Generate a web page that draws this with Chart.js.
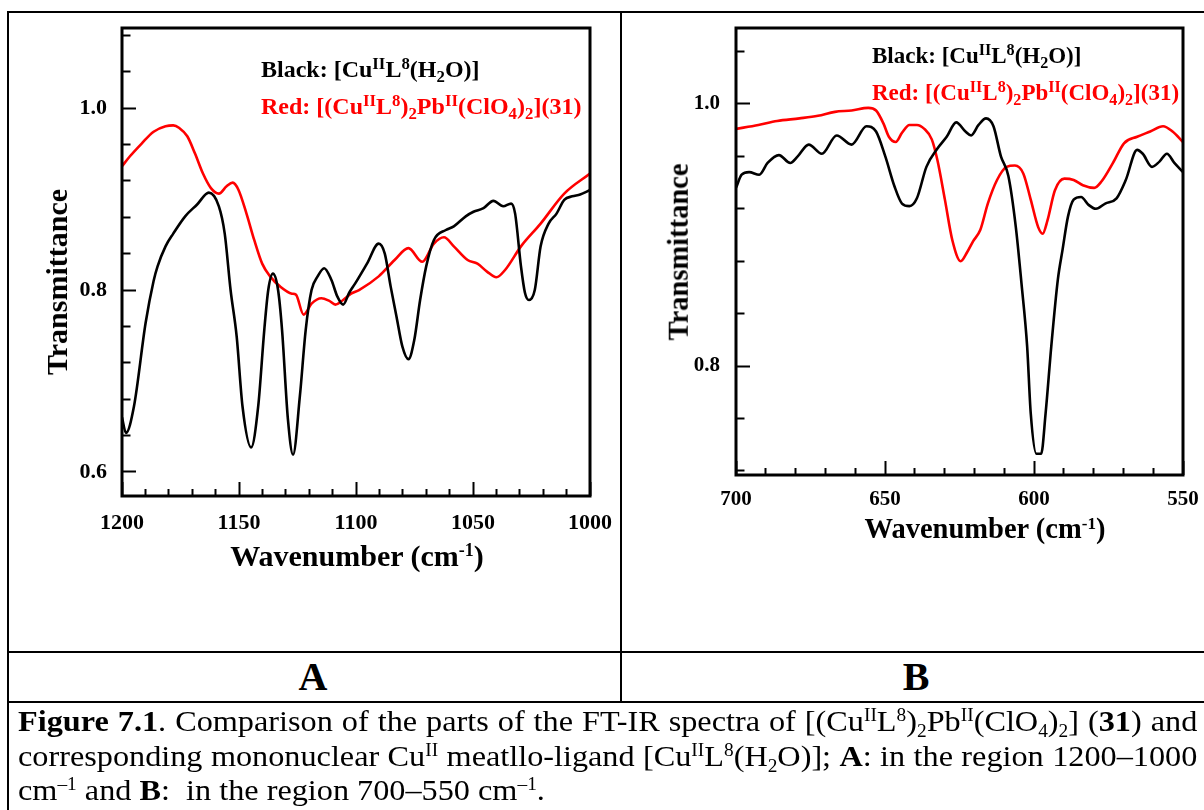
<!DOCTYPE html>
<html><head><meta charset="utf-8">
<script src="https://cdn.jsdelivr.net/npm/chart.js@4.4.0/dist/chart.umd.min.js"></script>
<style>
html,body{margin:0;padding:0;background:#fff;}
body{width:1204px;height:810px;position:relative;overflow:hidden;font-family:'Liberation Serif','Times New Roman',serif;color:#000;}
.ln{position:absolute;background:#000;}
canvas{position:absolute;top:0;}
.t{position:absolute;white-space:nowrap;font-weight:bold;line-height:1;}
.cap{position:absolute;left:18px;width:1097px;font-size:30px;line-height:1;font-weight:normal;transform:scaleX(1.075);transform-origin:0 0;}
.j{text-align:justify;text-align-last:justify;}
sup,sub{font-size:0.6em;line-height:0;}
sup{vertical-align:0.55em;}
sub{vertical-align:-0.35em;}
.lg sup,.lg sub{font-size:0.7em;}
.lg sup{vertical-align:0.5em;}
.lg sub{vertical-align:-0.3em;}
.red{color:#ff0000;}
</style></head><body>
<canvas id="cA" width="620" height="600" style="left:0"></canvas>
<canvas id="cB" width="584" height="600" style="left:620px"></canvas>

<div class="ln" style="left:8px;top:11px;width:1196px;height:2px"></div>
<div class="ln" style="left:7px;top:11px;width:2px;height:799px"></div>
<div class="ln" style="left:620px;top:11px;width:2px;height:692px"></div>
<div class="ln" style="left:8px;top:651px;width:1196px;height:2px"></div>
<div class="ln" style="left:8px;top:701px;width:1196px;height:2px"></div>

<div class="t lg" style="left:261px;top:57px;font-size:24px">Black: [Cu<sup>II</sup>L<sup>8</sup>(H<sub>2</sub>O)]</div>
<div class="t lg red" style="left:261px;top:94px;font-size:24px">Red: [(Cu<sup>II</sup>L<sup>8</sup>)<sub>2</sub>Pb<sup>II</sup>(ClO<sub>4</sub>)<sub>2</sub>](31)</div>
<div class="t lg" style="left:872px;top:44px;font-size:23px">Black: [Cu<sup>II</sup>L<sup>8</sup>(H<sub>2</sub>O)]</div>
<div class="t lg red" style="left:872px;top:81px;font-size:23px">Red: [(Cu<sup>II</sup>L<sup>8</sup>)<sub>2</sub>Pb<sup>II</sup>(ClO<sub>4</sub>)<sub>2</sub>](31)</div>

<div class="t" style="left:357px;top:541px;font-size:30px;transform:translateX(-50%)">Wavenumber (cm<sup>-1</sup>)</div>
<div class="t" style="left:985px;top:515px;font-size:28.5px;transform:translateX(-50%)">Wavenumber (cm<sup>-1</sup>)</div>
<div class="t" style="left:57px;top:282px;font-size:30px;transform:translate(-50%,-50%) rotate(-90deg)">Transmittance</div>
<div class="t" style="left:679px;top:252px;font-size:28.5px;transform:translate(-50%,-50%) rotate(-90deg)">Transmittance</div>

<div class="t" style="left:313px;top:677px;font-size:40px;transform:translate(-50%,-50%)">A</div>
<div class="t" style="left:916px;top:677px;font-size:40px;transform:translate(-50%,-50%)">B</div>

<div class="cap j" style="top:706px"><b>Figure 7.1</b>. Comparison of the parts of the FT-IR spectra of [(Cu<sup>II</sup>L<sup>8</sup>)<sub>2</sub>Pb<sup>II</sup>(ClO<sub>4</sub>)<sub>2</sub>] (<b>31</b>) and</div>
<div class="cap j" style="top:741px">corresponding mononuclear Cu<sup>II</sup> meatllo-ligand [Cu<sup>II</sup>L<sup>8</sup>(H<sub>2</sub>O)]; <b>A</b>: in the region 1200&#8211;1000</div>
<div class="cap" style="top:775px">cm<sup>&#8211;1</sup> and <b>B</b>:&nbsp; in the region 700&#8211;550 cm<sup>&#8211;1</sup>.</div>

<script>
// ---------- Panel A (1200-1000 cm-1) ----------
const wnA_black = [1200,1198.3,1194.9,1189.9,1186.5,1184.8,1181.4,1178.1,1173.0,1167.9,1162.9,1158.6,1156.1,1153.6,1151.0,1148.5,1144.8,1141.8,1139.2,1137.5,1135.5,1133.3,1131.6,1129.1,1126.9,1124.0,1121.5,1119.0,1116.4,1113.6,1110.5,1108.0,1105.5,1102.9,1100.4,1095.3,1090.3,1087.7,1085.2,1082.7,1080.2,1077.6,1075.1,1072.6,1070.0,1066.7,1061.6,1058.2,1053.1,1049.8,1045.5,1041.3,1037.1,1033.7,1032.0,1029.5,1027.8,1026.1,1023.6,1021.1,1017.7,1014.3,1011.0,1007.6,1004.2,1000];
const trA_black = [0.66,0.643,0.672,0.764,0.81,0.826,0.848,0.862,0.881,0.894,0.907,0.892,0.862,0.800,0.749,0.672,0.627,0.672,0.756,0.80,0.818,0.80,0.756,0.658,0.619,0.683,0.756,0.80,0.815,0.824,0.811,0.793,0.784,0.797,0.807,0.829,0.851,0.84,0.804,0.771,0.738,0.724,0.745,0.789,0.826,0.855,0.866,0.870,0.881,0.886,0.890,0.898,0.892,0.895,0.884,0.826,0.797,0.789,0.80,0.848,0.873,0.884,0.899,0.903,0.905,0.910];
const wnA_red = [1200,1196.6,1191.6,1186.5,1181.4,1178.1,1175.5,1172.1,1168.8,1165.4,1162.0,1158.6,1155.3,1152.7,1150.2,1146.8,1143.5,1140.1,1136.7,1132.5,1127.4,1125.7,1122.4,1119.0,1114.8,1111.4,1108.8,1105.5,1102.1,1098.7,1090.3,1083.5,1077.6,1071.7,1066.7,1062.4,1058.2,1052.3,1048.1,1043.9,1040.0,1036.3,1029.5,1021.1,1011.0,1000];
const trA_red = [0.936,0.947,0.961,0.974,0.980,0.981,0.978,0.969,0.950,0.928,0.912,0.906,0.914,0.918,0.910,0.884,0.855,0.829,0.815,0.804,0.796,0.795,0.773,0.785,0.791,0.788,0.784,0.789,0.796,0.80,0.815,0.833,0.846,0.831,0.851,0.858,0.848,0.833,0.829,0.82,0.814,0.822,0.848,0.873,0.906,0.928];
const xTicksA = [1000,1010,1020,1030,1040,1050,1060,1070,1080,1090,1100,1110,1120,1130,1140,1150,1160,1170,1180,1190,1200];
const xLabelsA = [1200,1150,1100,1050,1000];
const yTicksA = [0.60,0.64,0.68,0.72,0.76,0.80,0.84,0.88,0.92,0.96,1.00,1.04,1.08];
const yLabelsA = [0.6,0.8,1.0];

// ---------- Panel B (700-550 cm-1) ----------
const wnB_black = [700,698.1,695.6,692.2,689.4,685.6,681.8,679.3,675.6,671.2,666.2,661.2,656.2,653.0,649.9,646.8,644.3,641.8,639.3,636.1,632.4,629.3,626.1,623.0,621.1,618.6,616.1,613.6,611.1,608.6,606.1,604.2,602.3,601.1,599.2,597.6,596.1,594.2,592.0,590.4,588.6,586.7,584.2,581.7,579.2,576.1,572.3,569.2,565.4,563.5,560.4,557.9,555.4,552.9,550];
const trB_black = [0.936,0.946,0.948,0.946,0.955,0.961,0.955,0.960,0.969,0.962,0.976,0.969,0.983,0.979,0.960,0.937,0.924,0.922,0.928,0.952,0.966,0.975,0.986,0.979,0.976,0.984,0.989,0.983,0.960,0.945,0.906,0.863,0.815,0.764,0.733,0.733,0.764,0.815,0.866,0.889,0.914,0.927,0.929,0.923,0.920,0.924,0.928,0.942,0.965,0.962,0.952,0.956,0.962,0.955,0.948];
const wnB_red = [700,692.5,686.2,678.7,672.5,666.8,661.2,655.6,653.0,650.5,648.7,646.4,644.3,641.8,639.3,636.8,634.3,632.4,629.9,627.4,624.6,622.4,620.5,618.0,615.5,612.4,609.2,606.4,603.6,601.1,598.6,597.1,595.5,593.0,589.8,586.7,583.6,579.8,577.3,573.5,569.8,565.4,561.0,556.7,553.5,550];
const trB_red = [0.981,0.984,0.987,0.989,0.991,0.994,0.995,0.997,0.995,0.985,0.975,0.971,0.978,0.984,0.984,0.981,0.973,0.957,0.927,0.896,0.880,0.887,0.895,0.904,0.924,0.942,0.952,0.953,0.947,0.927,0.906,0.901,0.911,0.934,0.943,0.942,0.938,0.936,0.941,0.955,0.970,0.975,0.979,0.983,0.979,0.971];
const xTicksB = [550,560,570,580,590,600,610,620,630,640,650,660,670,680,690,700];
const xLabelsB = [700,650,600,550];
const yTicksB = [0.72,0.76,0.80,0.84,0.88,0.92,0.96,1.00,1.04];
const yLabelsB = [0.8,1.0];

const FONT = "'Liberation Serif','Times New Roman',serif";
const isIn = (arr, v) => arr.some(a => Math.abs(a - v) < 1e-6);
const pts = (xs, ys) => xs.map((x, i) => ({x: x, y: ys[i]}));

const framePlugin = {
  id: 'frame',
  afterDraw(chart) {
    const a = chart.chartArea, ctx = chart.ctx;
    ctx.save();
    ctx.lineWidth = 3;
    ctx.strokeStyle = '#000';
    ctx.strokeRect(a.left, a.top, a.right - a.left, a.bottom - a.top);
    ctx.restore();
  }
};

function zeroPad(s) { s.paddingLeft = 0; s.paddingRight = 0; s.paddingTop = 0; s.paddingBottom = 0; }

function makeChart(id, o) {
  return new Chart(document.getElementById(id), {
    type: 'line',
    data: {
      datasets: [
        {data: pts(o.wnBlack, o.trBlack), borderColor: '#000000', borderWidth: 2.6, pointRadius: 0, cubicInterpolationMode: 'monotone', fill: false},
        {data: pts(o.wnRed, o.trRed), borderColor: '#ff0000', borderWidth: 2.6, pointRadius: 0, cubicInterpolationMode: 'monotone', fill: false}
      ]
    },
    options: {
      responsive: false, animation: false, devicePixelRatio: 1, events: [],
      layout: {padding: {left: 0, top: 28, right: o.padRight, bottom: 0}},
      plugins: {legend: {display: false}, tooltip: {enabled: false}, title: {display: false}},
      scales: {
        x: {
          type: 'linear', position: 'bottom', reverse: true, min: o.xMin, max: o.xMax,
          afterBuildTicks: s => { s.ticks = o.xTicks.map(v => ({value: v})); },
          afterFit: s => { s.height = o.xHeight; zeroPad(s); },
          ticks: {autoSkip: false, maxRotation: 0, minRotation: 0, padding: o.xPad, color: '#000',
            font: {family: FONT, size: o.fs, weight: 'bold'},
            callback: v => isIn(o.xLabels, v) ? String(v) : ''},
          grid: {display: true, drawOnChartArea: false, drawTicks: true, tickLength: -14, tickWidth: 2, tickColor: '#000',
            tickBorderDash: c => (c.tick && isIn(o.xLabels, c.tick.value)) ? [] : [7, 100]},
          border: {display: false}
        },
        y: {
          type: 'linear', position: 'left', min: o.yMin, max: o.yMax,
          afterBuildTicks: s => { s.ticks = o.yTicks.map(v => ({value: v})); },
          afterFit: s => { s.width = o.yWidth; zeroPad(s); },
          ticks: {padding: o.yPad, color: '#000', font: {family: FONT, size: o.fs, weight: 'bold'},
            callback: v => isIn(o.yLabels, v) ? Number(v).toFixed(1) : ''},
          grid: {display: true, drawOnChartArea: false, drawTicks: true, tickLength: -14, tickWidth: 2, tickColor: '#000',
            tickBorderDash: c => (c.tick && isIn(o.yLabels, c.tick.value)) ? [] : [8.5, 5.5],
            tickBorderDashOffset: c => (c.tick && isIn(o.yLabels, c.tick.value)) ? 0 : 8.5},
          border: {display: false}
        }
      }
    },
    plugins: [framePlugin]
  });
}

makeChart('cA', {
  wnBlack: wnA_black, trBlack: trA_black, wnRed: wnA_red, trRed: trA_red,
  xMin: 1000, xMax: 1200, yMin: 0.5736, yMax: 1.088,
  xTicks: xTicksA, xLabels: xLabelsA, yTicks: yTicksA, yLabels: yLabelsA,
  fs: 22, xPad: 28, yPad: 29, yWidth: 122, xHeight: 104, padRight: 30
});
makeChart('cB', {
  wnBlack: wnB_black, trBlack: trB_black, wnRed: wnB_red, trRed: trB_red,
  xMin: 550, xMax: 700, yMin: 0.7168, yMax: 1.058,
  xTicks: xTicksB, xLabels: xLabelsB, yTicks: yTicksB, yLabels: yLabelsB,
  fs: 21, xPad: 26, yPad: 30, yWidth: 116, xHeight: 125, padRight: 21
});
</script>
</body></html>
